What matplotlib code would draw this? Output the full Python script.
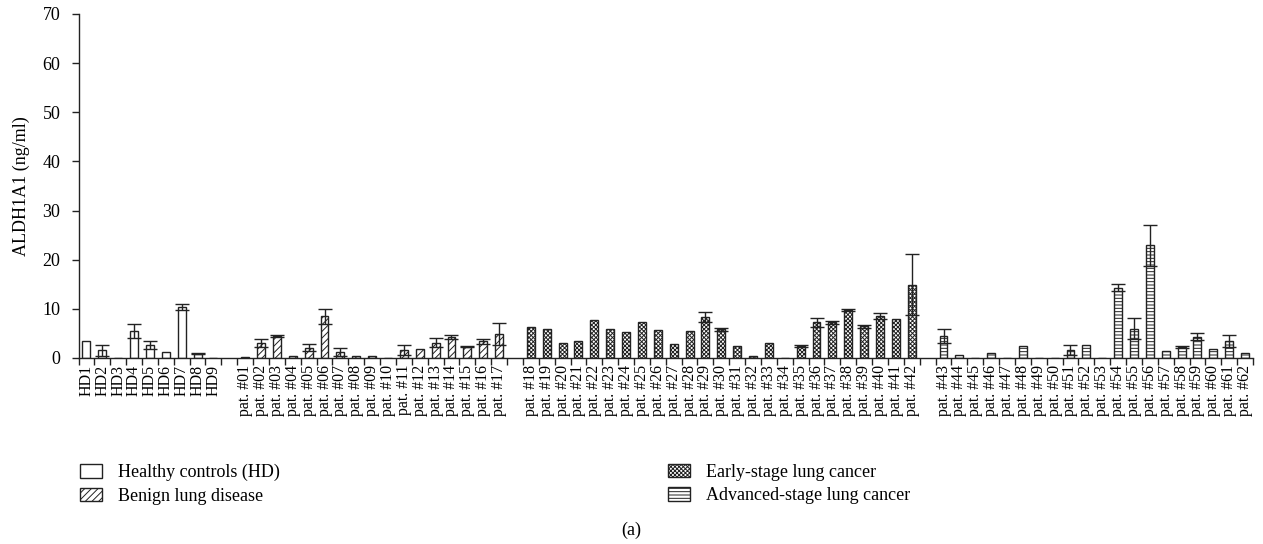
import matplotlib
matplotlib.use("Agg")
import matplotlib.pyplot as plt
import numpy as np

plt.rcParams["font.family"] = ["Liberation Serif", "DejaVu Serif"]
plt.rcParams["hatch.linewidth"] = 0.7

# --- data (ALDH1A1, ng/ml; mean and error) ---
hd_labels = [f"HD{i}" for i in range(1, 10)]
hd_vals = [3.5, 1.55, 0.0, 5.5, 2.7, 1.2, 10.3, 0.9, 0.0]
hd_err = [0.0, 1.05, 0.0, 1.5, 0.8, 0.0, 0.6, 0.15, 0.0]

benign_labels = [f"pat. #{i:02d}" for i in range(1, 18)]
benign_vals = [0.2, 3.1, 4.4, 0.5, 2.1, 8.5, 1.2, 0.35, 0.5, 0.0,
               1.6, 1.8, 3.1, 4.2, 2.3, 3.4, 4.9]
benign_err = [0.0, 0.85, 0.2, 0.0, 0.7, 1.5, 0.8, 0.0, 0.0, 0.0,
              1.0, 0.0, 0.9, 0.4, 0.1, 0.5, 2.2]

early_labels = [f"pat. #{i:02d}" for i in range(18, 43)]
early_vals = [6.3, 5.9, 3.0, 3.5, 7.7, 6.0, 5.2, 7.4, 5.6, 2.8,
              5.4, 8.3, 5.8, 2.5, 0.35, 3.1, 0.1, 2.4, 7.3, 7.3,
              9.7, 6.5, 8.5, 8.0, 14.9]
early_err = [0.0, 0.0, 0.0, 0.0, 0.0, 0.0, 0.0, 0.0, 0.0, 0.0,
             0.0, 1.0, 0.4, 0.0, 0.0, 0.0, 0.0, 0.15, 0.9, 0.3,
             0.2, 0.3, 0.6, 0.0, 6.2]

adv_labels = [f"pat. #{i:02d}" for i in range(43, 63)]
adv_vals = [4.5, 0.7, 0.0, 1.0, 0.0, 2.5, 0.0, 0.0, 1.7, 2.65,
            0.0, 14.3, 6.0, 22.9, 1.5, 2.2, 4.35, 1.8, 3.4, 1.0]
adv_err = [1.4, 0.0, 0.0, 0.0, 0.0, 0.0, 0.0, 0.0, 1.0, 0.0,
           0.0, 0.7, 2.2, 4.2, 0.0, 0.2, 0.65, 0.0, 1.2, 0.0]

legend_names = ["Healthy controls (HD)", "Benign lung disease",
                "Early-stage lung cancer", "Advanced-stage lung cancer"]
hatches = ["", "/////", "xxxxxxxx", "-----"]

groups = [
    (hd_labels, hd_vals, hd_err),
    (benign_labels, benign_vals, benign_err),
    (early_labels, early_vals, early_err),
    (adv_labels, adv_vals, adv_err),
]

fig = plt.figure(figsize=(12.63, 5.44), dpi=100)
ax = fig.add_axes([78.5 / 1263, 1 - 358 / 544, (1253 - 78.5) / 1263, (358 - 14) / 544])

edge = "#222222"
pos = 0
all_labels = []
all_pos = []
handles = []
for (labels, vals, err), hatch, name in zip(groups, hatches, legend_names):
    x = np.arange(pos, pos + len(vals))
    b = ax.bar(x, vals, width=0.5, color="white", edgecolor=edge,
               linewidth=1.0, hatch=hatch, label=name, zorder=2)
    handles.append(b)
    e = np.array(err)
    m = e > 0
    ax.errorbar(x[m], np.array(vals)[m], yerr=e[m], fmt="none",
                ecolor=edge, elinewidth=1.0, capsize=5, capthick=1.0, zorder=3)
    all_labels += labels
    all_pos += list(x)
    pos += len(vals) + 1  # empty slot between groups

n_slots = pos - 1
ax.set_xlim(-0.5, n_slots - 0.5)
ax.set_ylim(0, 70)
ax.set_yticks(range(0, 71, 10))
ax.set_xticks(all_pos)
ax.set_xticklabels(all_labels, rotation=90, fontsize=11.5)
ax.set_xticks(np.arange(-0.5, n_slots, 1.0), minor=True)
ax.tick_params(axis="x", which="major", length=0, pad=5)
ax.tick_params(axis="x", which="minor", length=5, width=1.0, color=edge, direction="out")
ax.tick_params(axis="y", length=5, width=1.0, color=edge, labelsize=13, pad=8)

for s in ["top", "right"]:
    ax.spines[s].set_visible(False)
for s in ["left", "bottom"]:
    ax.spines[s].set_color(edge)
    ax.spines[s].set_linewidth(1.0)

ax.set_ylabel("ALDH1A1 (ng/ml)", fontsize=13, labelpad=9)

leg_kw = dict(frameon=False, fontsize=13, handlelength=1.2, handleheight=0.75,
              handletextpad=0.9, labelspacing=0.35, borderpad=0, borderaxespad=0)
leg1 = fig.legend(handles[:2], legend_names[:2], loc="upper left",
                  bbox_to_anchor=(80 / 1263, 1 - 464 / 544), **leg_kw)
leg2 = fig.legend(handles[2:], legend_names[2:], loc="upper left",
                  bbox_to_anchor=(668 / 1263, 1 - 464 / 544), **leg_kw)
for lg in (leg1, leg2):
    for p in lg.get_patches():
        p.set_linewidth(1.0)

fig.text(0.5, 1 - 530 / 544, "(a)", ha="center", va="center", fontsize=13)

fig.savefig("out.png", dpi=100)
